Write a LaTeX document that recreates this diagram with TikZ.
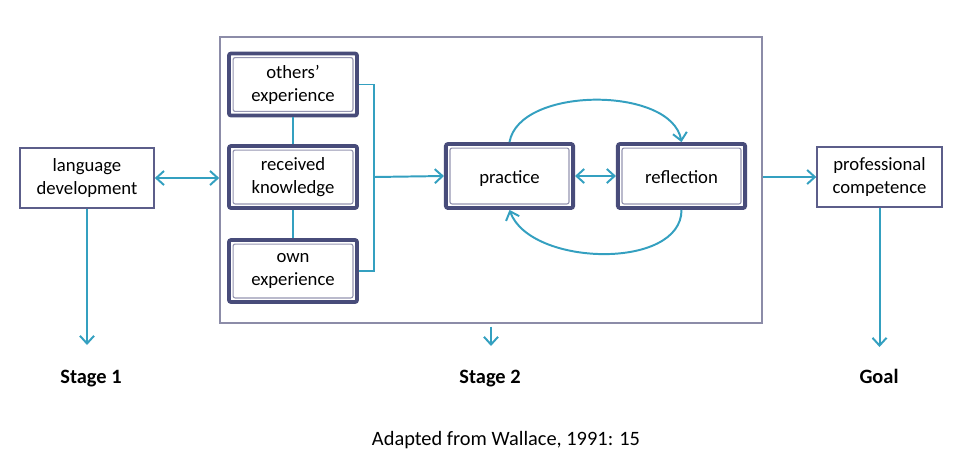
\documentclass[tikz,border=0pt]{standalone}
\usepackage{fontspec}
\setmainfont{Carlito}
\usetikzlibrary{arrows.meta}
\definecolor{teal}{RGB}{52,160,192}
\definecolor{navy}{RGB}{72,76,122}
\definecolor{inner}{RGB}{150,150,178}
\definecolor{frame}{RGB}{140,140,168}
\definecolor{plain}{RGB}{92,94,138}
\begin{document}
\begin{tikzpicture}[x=0.025cm, y=-0.025cm,
    every node/.style={font=\fontsize{13.3pt}{16.4pt}\selectfont, align=center, inner sep=0pt},
    plainbox/.style={draw=plain, line width=1.1pt, fill=white},
    dblbox/.style={draw=navy, line width=2.7pt, rounded corners=1.5pt, fill=white,
        minimum width=3.2cm, minimum height=1.55cm,
        path picture={\draw[inner, line width=0.8pt]
            ([shift={(2.9pt,2.9pt)}]path picture bounding box.south west) rectangle
            ([shift={(-2.9pt,-2.9pt)}]path picture bounding box.north east);}},
    onebox/.style={dblbox, minimum width=3.18cm, minimum height=1.6cm, text height=11pt, text depth=1pt},
    link/.style={draw=teal, line width=1.4pt},
    arrow/.style={link, -{Straight Barb[length=5.5pt, width=10pt, line width=1.4pt]}},
    both/.style={link, {Straight Barb[length=5.5pt, width=10pt, line width=1.4pt]}-{Straight Barb[length=5.5pt, width=10pt, line width=1.4pt]}},
    stage/.style={font=\fontsize{14.5pt}{17pt}\selectfont\bfseries, text height=10pt, text depth=3pt}]
    \useasboundingbox (0,0) rectangle (964,469);
    \node[draw=frame, line width=1pt, minimum width=13.55cm, minimum height=7.15cm] (frame) at (491,180) {};
    \node[plainbox, minimum width=3.35cm, minimum height=1.5cm] (lang) at (87,178) {language\\development};
    \node[dblbox] (others) at (293,84.5) {others'\\experience};
    \node[dblbox] (received) at (293,177) {received\\knowledge};
    \node[dblbox] (own) at (293,271) {own\\experience};
    \node[onebox] (practice) at (509.5,176) {practice};
    \node[onebox] (reflection) at (681.5,176) {reflection};
    \node[plainbox, minimum width=3.12cm, minimum height=1.5cm] (prof) at (879.5,177) {professional\\competence};
    \node[stage] (s1) at (91,379) {Stage 1};
    \node[stage] (s2) at (490,379) {Stage 2};
    \node[stage] (goal) at (879,379) {Goal};
    \node[font=\fontsize{14.5pt}{17pt}\selectfont] (source) at (506,440) {Adapted from Wallace, 1991: 15};
    \coordinate (brk) at (374,177);
    \coordinate (d1) at (87,345);
    \coordinate (d2) at (491,346);
    \coordinate (d3) at (879.5,347);
    \draw[both] (lang.east) -- (lang.east -| frame.west);
    \draw[link] (others.south) -- (received.north);
    \draw[link] (received.south) -- (own.north);
    \draw[link] (others.east) -| (brk) |- (own.east);
    \draw[arrow] (brk) -- (practice.west);
    \draw[both] (practice) -- (reflection);
    \draw[arrow] (practice.north) to[out=80, in=100, looseness=0.85] (reflection.north);
    \draw[arrow] (reflection.south) to[out=-90, in=-70, looseness=0.9] (practice.south);
    \draw[arrow] (frame.east |- prof.west) -- (prof.west);
    \draw[arrow] (lang.south) -- (d1);
    \draw[arrow, shorten <=2pt] (frame.south) -- (d2);
    \draw[arrow] (prof.south) -- (d3);
\end{tikzpicture}
\end{document}
